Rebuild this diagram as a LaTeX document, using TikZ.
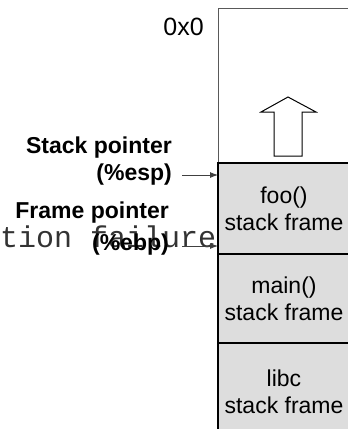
\documentclass[tikz,border=0pt]{standalone}
\usepackage{fontspec}
\setmainfont{Liberation Sans}
\newfontfamily\monofont{Liberation Mono}
\usetikzlibrary{positioning,arrows.meta}

\definecolor{framegray}{HTML}{DDDDDD}

\begin{document}
\begin{tikzpicture}[x=1pt,y=-1pt,node distance=0pt,
        stackframe/.style={draw=black,line width=1.6pt,fill=framegray,minimum width=132pt,
            inner sep=0pt,outer sep=0pt,align=center,font=\fontsize{23}{27}\selectfont},
        ptrlabel/.style={align=right,inner sep=0pt,font=\fontsize{23}{27}\selectfont\bfseries},
        ptrarrow/.style={draw=black!75,line width=0.9pt,-{Latex[length=8pt,width=6pt]}}]
    \useasboundingbox (0,0) rectangle (348,429);
    % leftover text behind the stack
    \node[anchor=west,inner sep=0pt,text=black!80,font=\monofont\fontsize{30}{32}\selectfont] (junk) at (0,237) {tion failure};
    % free space on top
    \node[draw=black!65,line width=0.9pt,minimum width=132pt,minimum height=155pt,
        inner sep=0pt,outer sep=0pt,anchor=north west] (free) at (218,8) {};
    \node[anchor=east,inner sep=0pt,font=\fontsize{25}{27}\selectfont] (addr) at (204,27) {0x0};
    \draw[line width=1pt] (288,97) -- (316,112) -- (302,112) -- (302,156)
        -- (274,156) -- (274,112) -- (261,112) -- cycle;
    % the frames
    \node[stackframe,minimum height=91pt,anchor=north west] (foo) at (218,163) {foo()\\stack frame};
    \node[stackframe,minimum height=89pt,below=of foo] (main) {main()\\stack frame};
    \node[stackframe,minimum height=98pt,below=of main] (libc) {libc\\stack frame};
    % pointers
    \node[ptrlabel,anchor=east] (esp) at (172,161) {Stack pointer\\(\%esp)};
    \node[ptrlabel,anchor=east] (ebp) at (169,229) {Frame pointer\\[5pt](\%ebp)};
    \coordinate (espfrom) at (182,175);
    \coordinate (ebpfrom) at (182,246);
    \draw[ptrarrow] (espfrom) -- (espfrom -| foo.west);
    \draw[ptrarrow] (ebpfrom) -- (ebpfrom -| foo.west);
\end{tikzpicture}
\end{document}
